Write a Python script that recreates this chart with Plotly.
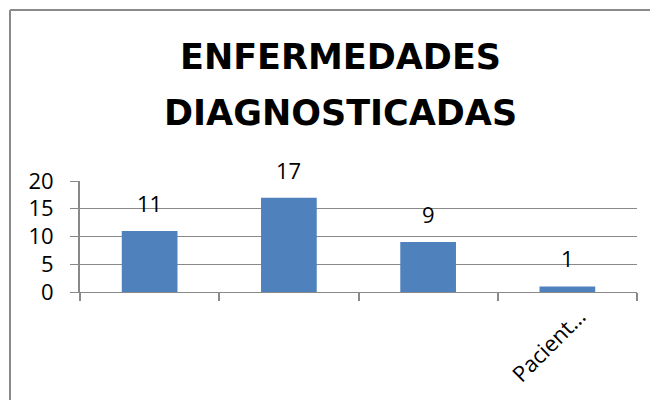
import plotly.graph_objects as go

# Data
categories = [0, 1, 2, 3]
tick_labels = ["", "", "", "Pacient…"]
values = [11, 17, 9, 1]
y_ticks = [0, 5, 10, 15, 20]
title_lines = ["ENFERMEDADES", "DIAGNOSTICADAS"]

BAR_COLOR = "#4F81BD"
GRID = "#898989"
FONT = "Open Sans"
TITLE_FONT = "DejaVu Sans"

# The page body adds an 8px margin, so the figure is 650x392 and
# window pixel positions below are converted by subtracting 8.
FW, FH = 650, 392
OFF = 8
L, R, T, B = 72, 21, 173, 108
W, H = FW - L - R, FH - T - B


def px(xw):
    return (xw - OFF - L) / W


def py(yw):
    return (FH - B - (yw - OFF)) / H


fig = go.Figure()
fig.add_trace(go.Bar(
    x=categories, y=values, width=0.4,
    marker=dict(color=BAR_COLOR, line=dict(width=0)),
    hoverinfo="skip",
))

for c, v in zip(categories, values):
    fig.add_annotation(
        x=c, y=v, text=str(v), showarrow=False,
        yanchor="middle", yshift=28,
        font=dict(family=FONT, size=22, color="#000000"),
    )

# title, two lines
for line, yw in zip(title_lines, [57, 113]):
    fig.add_annotation(
        xref="paper", yref="paper", x=px(340), y=py(yw),
        xanchor="center", yanchor="middle", showarrow=False,
        text="<b>" + line + "</b>",
        font=dict(family=TITLE_FONT, size=35, color="#000000"),
    )

# chart border (left and top edges visible)
fig.add_shape(type="line", xref="paper", yref="paper",
              x0=px(10), x1=px(700), y0=py(10), y1=py(10),
              line=dict(color="#8a8a8a", width=2))
fig.add_shape(type="line", xref="paper", yref="paper",
              x0=px(10), x1=px(10), y0=py(10), y1=py(430),
              line=dict(color="#8a8a8a", width=2))

fig.update_layout(
    width=FW, height=FH,
    margin=dict(l=L, r=R, t=T, b=B),
    paper_bgcolor="white", plot_bgcolor="white",
    showlegend=False,
)

fig.update_xaxes(
    range=[-0.5, 3.5], tickmode="array", tickvals=categories, ticktext=tick_labels,
    ticks="", tickangle=-45, showgrid=False, zeroline=False,
    showline=True, linecolor=GRID, linewidth=1,
    tickfont=dict(family=FONT, size=22, color="#000000"),
    ticklabelstandoff=2, ticklabelshift=12,
    minor=dict(tick0=-0.5, dtick=1, ticks="outside", ticklen=8, tickcolor=GRID,
               tickwidth=2, showgrid=False),
)
fig.update_yaxes(
    range=[0, 20], tickmode="array", tickvals=y_ticks,
    ticks="outside", ticklen=8, tickcolor=GRID, tickwidth=1,
    showgrid=True, gridcolor=GRID, gridwidth=1, zeroline=False,
    showline=True, linecolor=GRID, linewidth=2,
    tickfont=dict(family=FONT, size=22, color="#000000"),
    ticklabelstandoff=12,
)

fig.write_html("out.html")
